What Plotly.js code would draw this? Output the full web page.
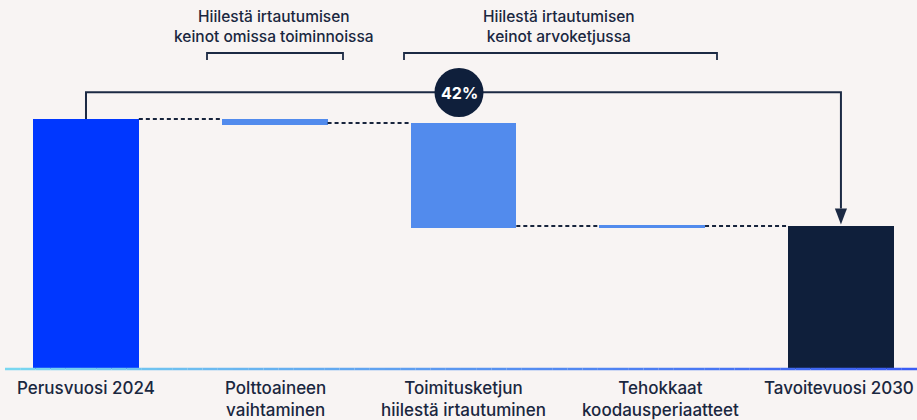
<!DOCTYPE html>
<html>
<head>
<meta charset="utf-8">
<script src="https://cdn.plot.ly/plotly-3.0.1.min.js"></script>
<style>html,body{margin:0;padding:0;background:#f8f4f3;}#chart{width:917px;height:420px;}</style>
</head>
<body>
<div id="chart"></div>
<script>
// Data (index: base year = 100)
const categories = ["Perusvuosi 2024", "Polttoaineen<br>vaihtaminen", "Toimitusketjun<br>hiilestä irtautuminen", "Tehokkaat<br>koodausperiaatteet", "Tavoitevuosi 2030"];
const barBottom = [0, 97.6, 56.4, 56.4, 0];
const barTop = [100, 100, 98.4, 57.6, 57.2];
const barColors = ["#0037ff", "#528bed", "#528bed", "#528bed", "#0f1f3b"];
const reductionLabel = "42%";
const groupLabels = ["Hiilestä irtautumisen<br>keinot omissa toiminnoissa", "Hiilestä irtautumisen<br>keinot arvoketjussa"];
const connectorLevels = [100, 98.4, 57.2, 57.2];

const W = 917, H = 420;
const xr = [-0.4556, 4.403];
const yr = [-20.4, 147.6];
const barW = 0.56;
const navy = "#1c2a44";
const fontFam = "Inter, 'Noto Sans', sans-serif";

const xs = categories.map((c, i) => i);
const traces = [{
  type: "bar",
  x: xs,
  y: barTop.map((t, i) => t - barBottom[i]),
  base: barBottom,
  width: barW,
  marker: {color: barColors, line: {width: 0}},
  hoverinfo: "skip",
  showlegend: false
}];

// dotted connectors
for (let i = 0; i < connectorLevels.length; i++) {
  traces.push({
    type: "scatter", mode: "lines",
    x: [i + barW / 2, i + 1 - barW / 2],
    y: [connectorLevels[i], connectorLevels[i]],
    line: {color: "#18243c", width: 2, dash: "4px,3px"},
    hoverinfo: "skip", showlegend: false
  });
}

const shapes = [];
// gradient baseline
const c0 = [122, 216, 240], c1 = [90, 150, 240], c2 = [58, 92, 245];
const N = 60, x0p = 5, x1p = 917;
for (let k = 0; k < N; k++) {
  const t = (k + 0.5) / N;
  let c;
  if (t < 0.5) { const u = t / 0.5; c = c0.map((a, j) => Math.round(a + (c1[j] - a) * u)); }
  else { const u = (t - 0.5) / 0.5; c = c1.map((a, j) => Math.round(a + (c2[j] - a) * u)); }
  shapes.push({type: "line", xref: "paper", yref: "y",
    x0: (x0p + (x1p - x0p) * k / N) / W, x1: (x0p + (x1p - x0p) * (k + 1) / N) / W,
    y0: 0, y1: 0, line: {color: `rgb(${c[0]},${c[1]},${c[2]})`, width: 2.5}, layer: "above"});
}
// reduction bracket
const bracketY = 110.7;
shapes.push({type: "path", xref: "x", yref: "y",
  path: `M 0,${barTop[0]} L 0,${bracketY} L 4,${bracketY} L 4,${barTop[4] + 7}`,
  line: {color: navy, width: 2}});
// arrowhead
const ah = 16 / 2.5, aw = 0.032;
shapes.push({type: "path", xref: "x", yref: "y",
  path: `M ${4 - aw},${barTop[4] + ah + 0.6} L ${4 + aw},${barTop[4] + ah + 0.6} L 4,${barTop[4] + 0.6} Z`,
  fillcolor: navy, line: {width: 0}});
// circle
const cx = 459 / W, cy = 1 - 92.5 / H, r = 24.5;
shapes.push({type: "circle", xref: "paper", yref: "paper",
  x0: cx - r / W, x1: cx + r / W, y0: cy - r / H, y1: cy + r / H,
  fillcolor: "#0f1f3b", line: {width: 0}});
// group brackets
const brY = 1 - 53 / H, brY2 = 1 - 60 / H;
[[207, 343], [404, 717]].forEach(([a, b]) => {
  shapes.push({type: "path", xref: "paper", yref: "paper",
    path: `M ${a / W},${brY2} L ${a / W},${brY} L ${b / W},${brY} L ${b / W},${brY2}`,
    line: {color: navy, width: 1.8}});
});

const annotations = [];
const labelX = [86, 275, 463, 660, 839];
categories.forEach((c, i) => {
  annotations.push({xref: "paper", yref: "paper", x: labelX[i] / W, y: 1 - 376 / H,
    yanchor: "top", xanchor: "center", showarrow: false, text: c, align: "center",
    font: {family: fontFam, size: 17, color: "#1a2740", weight: 500}});
});
annotations.push({xref: "paper", yref: "paper", x: cx, y: cy, xanchor: "center", yanchor: "middle",
  showarrow: false, text: "<b>" + reductionLabel + "</b>",
  font: {family: fontFam, size: 16, color: "#ffffff"}});
[[274, groupLabels[0]], [559, groupLabels[1]]].forEach(([x, t]) => {
  annotations.push({xref: "paper", yref: "paper", x: x / W, y: 1 - 5 / H, yanchor: "top", xanchor: "center",
    showarrow: false, text: t, align: "center",
    font: {family: fontFam, size: 15.5, color: "#1a2740", weight: 500}});
});

const layout = {
  width: W, height: H,
  margin: {l: 0, r: 0, t: 0, b: 0},
  paper_bgcolor: "#f8f4f3", plot_bgcolor: "#f8f4f3",
  xaxis: {range: xr, showgrid: false, zeroline: false, showticklabels: false, fixedrange: true},
  yaxis: {range: yr, showgrid: false, zeroline: false, showticklabels: false, fixedrange: true},
  shapes: shapes, annotations: annotations, showlegend: false, bargap: 0
};
Plotly.newPlot("chart", traces, layout, {displayModeBar: false, staticPlot: true});
</script>
</body>
</html>
